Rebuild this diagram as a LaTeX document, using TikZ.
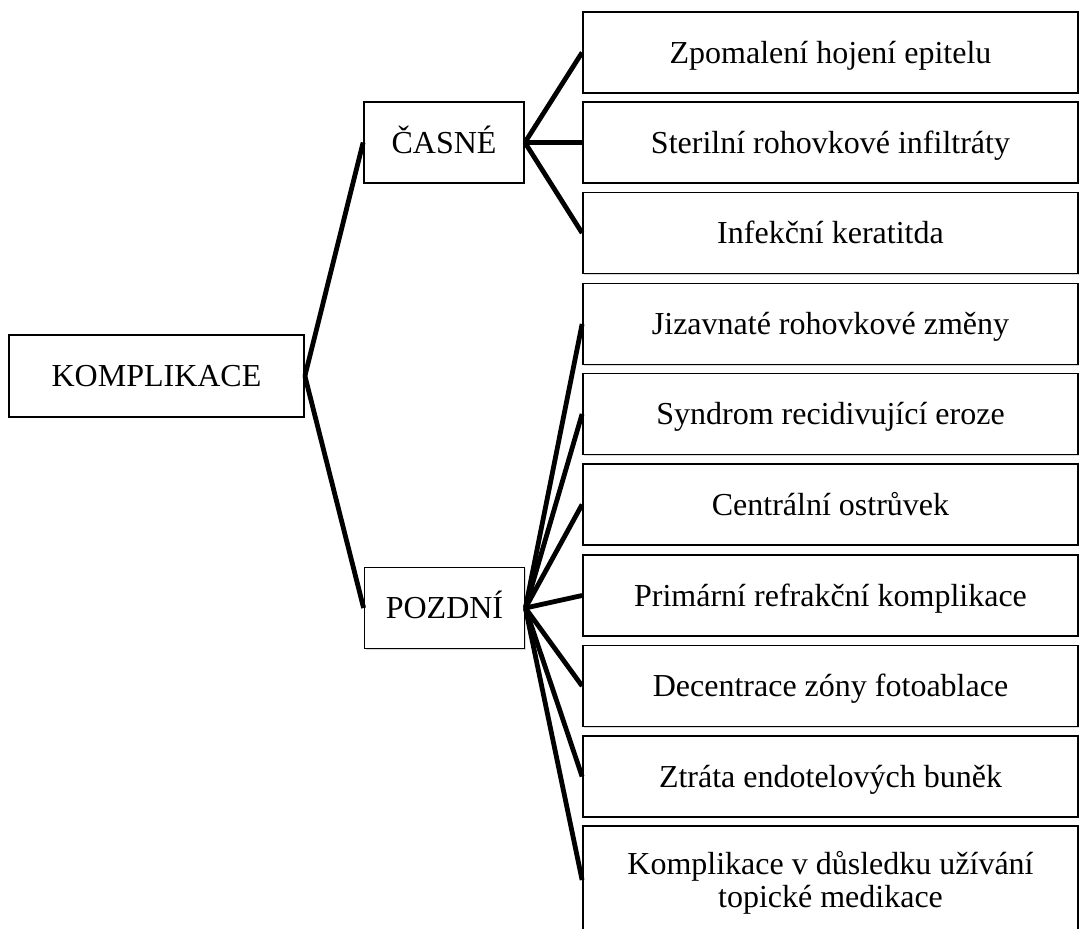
\documentclass[tikz,border=0pt]{standalone}
\usepackage{fontspec}
\setmainfont{Liberation Serif}
\usetikzlibrary{shadows}
\begin{document}
\begin{tikzpicture}[
    x=0.5pt, y=-0.5pt,
    box/.style = { draw,line width=0.9pt,fill=white,align=center,inner sep=0pt,
                   font=\fontsize{16}{16.5}\selectfont,text height=10.6pt,text depth=0pt,
                   drop shadow={shadow xshift=0.5pt,shadow yshift=-0.7pt,opacity=0.3} },
    catbox/.style = { box,minimum width=80pt,minimum height=40.5pt },
    itembox/.style = { box,minimum width=247.5pt,minimum height=40.5pt },
    linkstyle/.style = { line width=2.4pt,line join=round }
    ]
    \useasboundingbox (0,0) rectangle (1081,929);
    \clip (0,0) rectangle (1081,929);
    % Definitions
    \coordinate (kom) at (156.5,376  );
    \coordinate (cas) at (444  ,142.5);
    \coordinate (poz) at (444.5,608  );
    \coordinate (zpo) at (830.5, 52.5);
    \coordinate (ste) at (830.5,142.5);
    \coordinate (inf) at (830.5,233  );
    \coordinate (jiz) at (830.5,324  );
    \coordinate (syn) at (830.5,414  );
    \coordinate (cen) at (830.5,504.5);
    \coordinate (pri) at (830.5,595.5);
    \coordinate (dec) at (830.5,686  );
    \coordinate (ztr) at (830.5,776.5);
    \coordinate (top) at (830.5,880  );
    % Nodes
    \node(K)  at (kom) [box,minimum width=147.5pt,minimum height=41pt] {KOMPLIKACE};
    \node(C)  at (cas) [catbox]  {ČASNÉ};
    \node(P)  at (poz) [catbox]  {POZDNÍ};
    \node(c1) at (zpo) [itembox] {Zpomalení hojení epitelu};
    \node(c2) at (ste) [itembox] {Sterilní rohovkové infiltráty};
    \node(c3) at (inf) [itembox] {Infekční keratitda};
    \node(p1) at (jiz) [itembox] {Jizavnaté rohovkové změny};
    \node(p2) at (syn) [itembox] {Syndrom recidivující eroze};
    \node(p3) at (cen) [itembox] {Centrální ostrůvek};
    \node(p4) at (pri) [itembox] {Primární refrakční komplikace};
    \node(p5) at (dec) [itembox] {Decentrace zóny fotoablace};
    \node(p6) at (ztr) [itembox] {Ztráta endotelových buněk};
    \node(p7) at (top) [itembox,minimum height=54pt,text height=27.1pt] {Komplikace v důsledku užívání\\topické medikace};
    % Links
    \draw[linkstyle] (K.east) -- (C.west);
    \draw[linkstyle] (K.east) -- (P.west);
    \draw[linkstyle] (C.east) -- (c1.west);
    \draw[linkstyle] (C.east) -- (c2.west);
    \draw[linkstyle] (C.east) -- (c3.west);
    \draw[linkstyle] (P.east) -- (p1.west);
    \draw[linkstyle] (P.east) -- (p2.west);
    \draw[linkstyle] (P.east) -- (p3.west);
    \draw[linkstyle] (P.east) -- (p4.west);
    \draw[linkstyle] (P.east) -- (p5.west);
    \draw[linkstyle] (P.east) -- (p6.west);
    \draw[linkstyle] (P.east) -- (p7.west);
\end{tikzpicture}
\end{document}
